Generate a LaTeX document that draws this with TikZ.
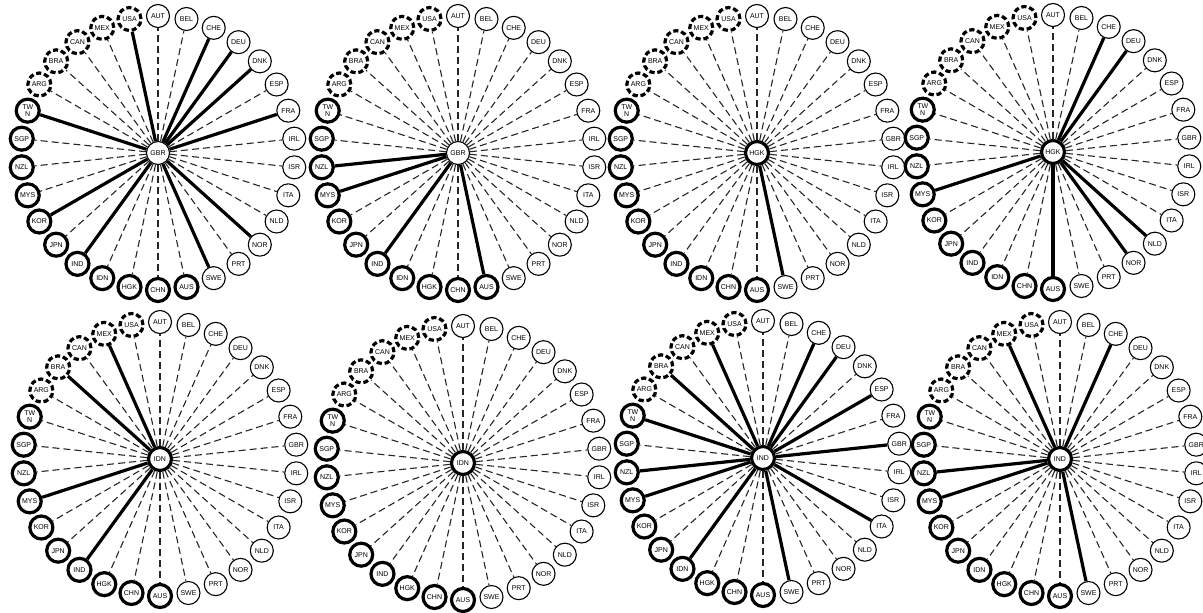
\documentclass[tikz,border=0pt]{standalone}
\usepackage{fontspec}
\setsansfont{Liberation Sans}

\newcount\slot
\def\twn{TWN}
\makeatletter
% #1 tag, #2/#3 hub position, #4 hub, #5 hub style, #6 solid links
\newcommand{\wheel}[6]{%
  \def\hub{#4}
  \node[#5] (#1-#4) at (#2,#3) {#4};
  \global\slot=0
  \foreach \c/\g in {AUT/eu,BEL/eu,CHE/eu,DEU/eu,DNK/eu,ESP/eu,FRA/eu,GBR/eu,IRL/eu,ISR/eu,ITA/eu,NLD/eu,NOR/eu,PRT/eu,SWE/eu,
      AUS/ap,CHN/ap,HGK/ap,IDN/ap,IND/ap,JPN/ap,KOR/ap,MYS/ap,NZL/ap,SGP/ap,TWN/ap,
      ARG/am,BRA/am,CAN/am,MEX/am,USA/am}{
    \edef\cur{\c}
    \ifx\cur\hub\else
      \pgfmathsetmacro\px{#2+137*cos(90-12*\the\slot)}
      \pgfmathsetmacro\py{#3+137*sin(90-12*\the\slot)}
      \node[\g] (#1-\c) at (\px,\py) {\ifx\cur\twn TW\\N\else\c\fi};
      \edef\tmp{\noexpand\in@{,\c,}{,#6,}}\tmp
      \ifin@\def\sty{hit}\else\def\sty{miss}\fi
      \draw[\sty] (#1-#4) -- (#1-\c);
      \global\advance\slot by 1
    \fi
  }
}
\makeatother

\begin{document}
\begin{tikzpicture}[
    x=0.5pt, y=0.5pt,
    font=\sffamily\fontsize{3.5}{3.9}\selectfont,
    cty/.style={circle, fill=white, inner sep=0pt, minimum size=11.5pt, align=center},
    eu/.style={cty, draw, line width=0.55pt},
    ap/.style={cty, draw, line width=1.6pt},
    am/.style={cty, draw, line width=1.6pt, dash pattern=on 2.6pt off 1.4pt},
    hit/.style={line width=1.6pt},
    miss/.style={black!85, line width=0.55pt, dash pattern=on 3.5pt off 2pt}
  ]
  \useasboundingbox (0,0) rectangle (1203,612);
  % top row
  \wheel{a}{158}{459}{GBR}{eu}{USA,CHE,DEU,DNK,FRA,TWN,KOR,IND,SWE,NOR}
  \wheel{b}{458}{459}{GBR}{eu}{NZL,MYS,IND,AUS}
  \wheel{c}{757}{459}{HGK}{ap}{SWE}
  \wheel{d}{1053}{460}{HGK}{ap}{CHE,DEU,MYS,AUS,NOR,NLD}
  % bottom row
  \wheel{e}{160}{153}{IDN}{ap}{MEX,BRA,MYS,IND}
  \wheel{f}{463}{149}{IDN}{ap}{}
  \wheel{g}{763}{154}{IND}{ap}{MEX,BRA,TWN,NZL,MYS,IDN,SWE,ITA,GBR,ESP,DEU,CHE}
  \wheel{h}{1060}{153}{IND}{ap}{MEX,CHE,NZL,MYS,SWE}
\end{tikzpicture}
\end{document}
